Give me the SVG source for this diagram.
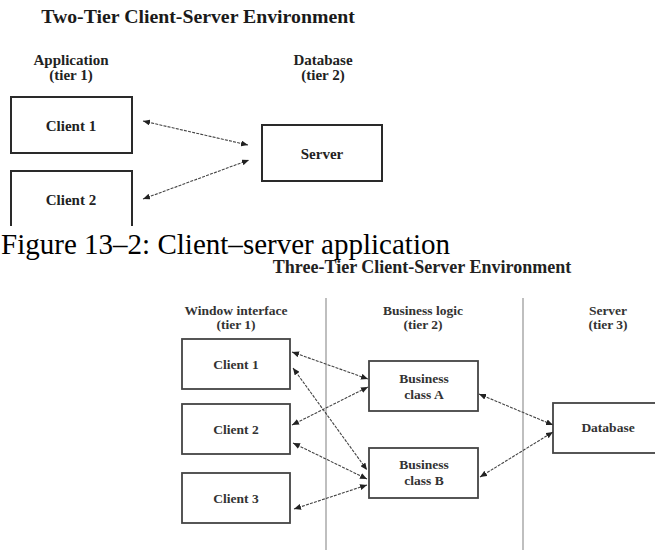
<svg xmlns="http://www.w3.org/2000/svg" width="655" height="550" viewBox="0 0 655 550">
<style>
.bg{fill:#fff}
.box1{fill:#fff;stroke:#2a2a2a;stroke-width:2}
.box2{fill:#fff;stroke:#444;stroke-width:1.8}
.t{font-family:"Liberation Serif","Times New Roman",serif;font-weight:bold;text-anchor:middle}
.lab1{font-size:15px;fill:#222}
.lab2{font-size:13.5px;fill:#333}
.title1{font-size:19.8px;fill:#1a1a1a}
.title2{font-size:18px;fill:#222}
.cap{font-family:"Liberation Serif","Times New Roman",serif;font-size:29px;fill:#000}
.conn{stroke:#444;stroke-width:1.1;fill:none;stroke-dasharray:3 1.2;marker-start:url(#ah);marker-end:url(#ah)}
.div{stroke:#8a8a8a;stroke-width:1.1}
</style>
<defs>
<marker id="ah" markerUnits="userSpaceOnUse" markerWidth="7" markerHeight="6" refX="7" refY="3" orient="auto-start-reverse">
<path d="M0,0 L7,3 L0,6 z" fill="#222"/>
</marker>
</defs>
<rect class="bg" x="0" y="0" width="655" height="550"/>

<!-- Two-tier diagram -->
<text id="title-two-tier" class="t title1" x="198" y="23">Two-Tier Client-Server Environment</text>
<g id="col-application">
<text class="t lab1" x="71" y="65">Application</text>
<text class="t lab1" x="71" y="80">(tier 1)</text>
</g>
<g id="col-database">
<text class="t lab1" x="323" y="65">Database</text>
<text class="t lab1" x="323" y="80">(tier 2)</text>
</g>
<g id="top-client1">
<rect class="box1" x="11" y="97" width="121" height="56"/>
<text class="t lab1" x="71" y="131">Client 1</text>
</g>
<g id="top-client2">
<path class="box1" d="M11,226 V171 H132 V226"/>
<text class="t lab1" x="71" y="205">Client 2</text>
</g>
<g id="top-server">
<rect class="box1" x="262" y="125" width="120" height="56"/>
<text class="t lab1" x="322" y="159">Server</text>
</g>
<g id="top-connectors">
<line class="conn" x1="143" y1="121" x2="248" y2="145"/>
<line class="conn" x1="143" y1="199" x2="249" y2="160"/>
</g>

<text id="caption" class="cap" x="1" y="254" textLength="449" lengthAdjust="spacingAndGlyphs">Figure 13–2: Client–server application</text>

<!-- Three-tier diagram -->
<text id="title-three-tier" class="t title2" x="422" y="273">Three-Tier Client-Server Environment</text>
<g id="dividers">
<line class="div" x1="326" y1="298" x2="326" y2="550"/>
<line class="div" x1="523" y1="298" x2="523" y2="550"/>
</g>
<g id="col-window">
<text class="t lab2" x="236" y="315">Window interface</text>
<text class="t lab2" x="236" y="329">(tier 1)</text>
</g>
<g id="col-business">
<text class="t lab2" x="423" y="315">Business logic</text>
<text class="t lab2" x="423" y="329">(tier 2)</text>
</g>
<g id="col-server">
<text class="t lab2" x="608" y="315">Server</text>
<text class="t lab2" x="608" y="329">(tier 3)</text>
</g>
<g id="client1">
<rect class="box2" x="182" y="339" width="108" height="50"/>
<text class="t lab2" x="236" y="369">Client 1</text>
</g>
<g id="client2">
<rect class="box2" x="182" y="404" width="108" height="50"/>
<text class="t lab2" x="236" y="434">Client 2</text>
</g>
<g id="client3">
<rect class="box2" x="182" y="473" width="108" height="50"/>
<text class="t lab2" x="236" y="503">Client 3</text>
</g>
<g id="business-a">
<rect class="box2" x="369" y="361" width="109" height="50"/>
<text class="t lab2" x="424" y="383">Business</text>
<text class="t lab2" x="424" y="399">class A</text>
</g>
<g id="business-b">
<rect class="box2" x="369" y="448" width="109" height="50"/>
<text class="t lab2" x="424" y="469">Business</text>
<text class="t lab2" x="424" y="485">class B</text>
</g>
<g id="database">
<rect class="box2" x="553" y="403" width="120" height="50"/>
<text class="t lab2" x="608" y="432">Database</text>
</g>
<g id="connectors">
<line class="conn" x1="292" y1="352" x2="368" y2="379"/>
<line class="conn" x1="293" y1="368" x2="367" y2="470"/>
<line class="conn" x1="292" y1="425" x2="368" y2="387"/>
<line class="conn" x1="293" y1="443" x2="367" y2="479"/>
<line class="conn" x1="294" y1="509" x2="367" y2="485"/>
<line class="conn" x1="479" y1="394" x2="553" y2="425"/>
<line class="conn" x1="480" y1="477" x2="553" y2="432"/>
</g>
</svg>
